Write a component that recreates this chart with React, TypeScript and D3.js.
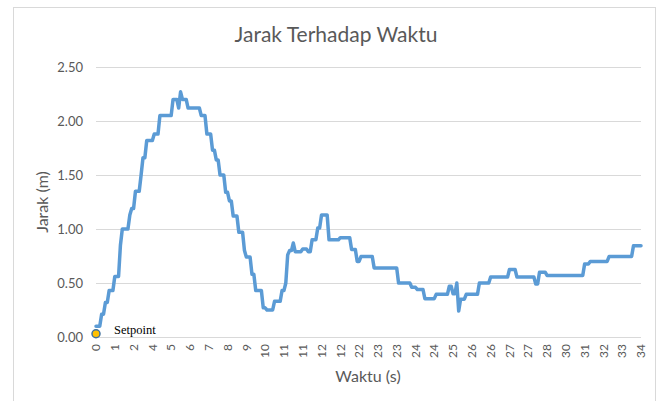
import * as d3 from 'd3';
import React, { useRef, useEffect } from 'react';

// jarak (m) per sampel; tiap nilai berlaku mulai dari sampel di mulaiSampel
const mulaiSampel = [0, 3, 5, 7, 10, 13, 14, 18, 19, 21, 24, 25, 27, 31, 34, 41, 44, 45, 46, 49, 56, 59, 62, 64, 66, 69, 71, 73, 76, 79, 80, 83, 85, 89, 91, 95, 99, 101, 102, 103, 105, 106, 110, 113, 115, 118, 120, 124, 130, 136, 139, 141, 148, 161, 168, 171, 175, 181, 188, 190, 192, 193, 194, 197, 204, 210, 220, 224, 234, 236, 240, 260, 263, 273, 286];
const jarakRun = [0.10, 0.21, 0.32, 0.43, 0.56, 0.85, 1.00, 1.13, 1.19, 1.35, 1.50, 1.66, 1.82, 1.88, 2.05, 2.20, 2.12, 2.27, 2.20, 2.12, 2.05, 1.88, 1.73, 1.64, 1.50, 1.34, 1.26, 1.12, 0.97, 0.80, 0.74, 0.58, 0.43, 0.27, 0.25, 0.33, 0.43, 0.50, 0.76, 0.80, 0.87, 0.79, 0.815, 0.79, 0.90, 1.01, 1.13, 0.90, 0.92, 0.81, 0.70, 0.745, 0.64, 0.50, 0.46, 0.44, 0.355, 0.395, 0.47, 0.40, 0.50, 0.24, 0.35, 0.395, 0.50, 0.555, 0.625, 0.555, 0.49, 0.60, 0.57, 0.675, 0.70, 0.745, 0.845];
const sampelAkhir = 290;

// label sumbu x, satu label tiap 10 sampel
const labelWaktu = ['0', '1', '2', '4', '5', '6', '7', '8', '9', '10', '11', '11', '12', '12', '22', '23', '23', '24', '24', '25', '26', '26', '27', '27', '28', '30', '31', '32', '33', '34'];
const jarakTicks = [0, 0.5, 1, 1.5, 2, 2.5];

const setpoint = { sampel: 0, jarak: 0.03, label: 'Setpoint' };

const FONT = 'Lato, "Open Sans", sans-serif';
const GREY = '#595959';

const App = () => {
  const ref = useRef<SVGSVGElement>(null);

  useEffect(() => {
    const svg = d3.select(ref.current);
    svg.selectAll('*').remove();

    const x = d3.scaleLinear().domain([0, sampelAkhir]).range([96, 641]);
    const y = d3.scaleLinear().domain([0, 2.5]).range([337, 67]);

    // chart border
    svg.append('rect')
      .attr('x', 13.5).attr('y', 7.5)
      .attr('width', 642).attr('height', 400)
      .attr('fill', '#fff').attr('stroke', '#d9d9d9');

    svg.append('text')
      .attr('x', 336).attr('y', 42)
      .attr('text-anchor', 'middle')
      .attr('font-family', FONT).attr('font-size', 21)
      .attr('fill', GREY)
      .text('Jarak Terhadap Waktu');

    // gridlines + y labels
    const g = svg.append('g');
    g.selectAll('line.grid')
      .data(jarakTicks)
      .enter().append('line')
      .attr('x1', x(0)).attr('x2', x(sampelAkhir))
      .attr('y1', d => Math.round(y(d)) + 0.5).attr('y2', d => Math.round(y(d)) + 0.5)
      .attr('stroke', '#d9d9d9').attr('stroke-width', 1);

    g.selectAll('text.ylab')
      .data(jarakTicks)
      .enter().append('text')
      .attr('x', 83).attr('y', d => y(d))
      .attr('dy', '0.35em')
      .attr('text-anchor', 'end')
      .attr('font-family', FONT).attr('font-size', 13)
      .attr('fill', GREY)
      .text(d => d3.format('.2f')(d));

    // x labels (rotated)
    g.selectAll('text.xlab')
      .data(labelWaktu)
      .enter().append('text')
      .attr('transform', (d, i) => `translate(${x(i * 10)}, 344) rotate(-90)`)
      .attr('dy', '0.35em')
      .attr('text-anchor', 'end')
      .attr('font-family', FONT).attr('font-size', 12)
      .attr('fill', GREY)
      .text(d => d);

    svg.append('text')
      .attr('x', 368).attr('y', 382)
      .attr('text-anchor', 'middle')
      .attr('font-family', FONT).attr('font-size', 16)
      .attr('fill', GREY)
      .text('Waktu (s)');

    svg.append('text')
      .attr('transform', 'translate(48, 202) rotate(-90)')
      .attr('text-anchor', 'middle')
      .attr('font-family', FONT).attr('font-size', 16)
      .attr('fill', GREY)
      .text('Jarak (m)');

    // step line
    const pts: [number, number][] = [];
    mulaiSampel.forEach((s, i) => {
      const akhir = i < mulaiSampel.length - 1 ? mulaiSampel[i + 1] - 1 : sampelAkhir;
      pts.push([s, jarakRun[i]]);
      if (akhir > s) pts.push([akhir, jarakRun[i]]);
    });

    const line = d3.line<[number, number]>()
      .x(d => x(d[0]))
      .y(d => y(d[1]));

    svg.append('path')
      .datum(pts)
      .attr('d', line)
      .attr('fill', 'none')
      .attr('stroke', '#5b9bd5')
      .attr('stroke-width', 3.5)
      .attr('stroke-linejoin', 'round')
      .attr('stroke-linecap', 'round');

    // setpoint
    svg.append('circle')
      .attr('cx', x(setpoint.sampel)).attr('cy', y(setpoint.jarak))
      .attr('r', 4)
      .attr('fill', '#ffc000')
      .attr('stroke', '#41719c').attr('stroke-width', 1.5);

    svg.append('text')
      .attr('x', x(setpoint.sampel) + 18).attr('y', y(setpoint.jarak))
      .attr('font-family', '"Liberation Serif", "Times New Roman", serif')
      .attr('font-size', 12.5)
      .attr('fill', '#000')
      .text(setpoint.label);
  }, []);

  return (
    <div className='chart'>
      <svg ref={ref} width={661} height={401} style={{ position: 'absolute', left: 0, top: 0 }}>
      </svg>
    </div>
  );
};

export default App;
